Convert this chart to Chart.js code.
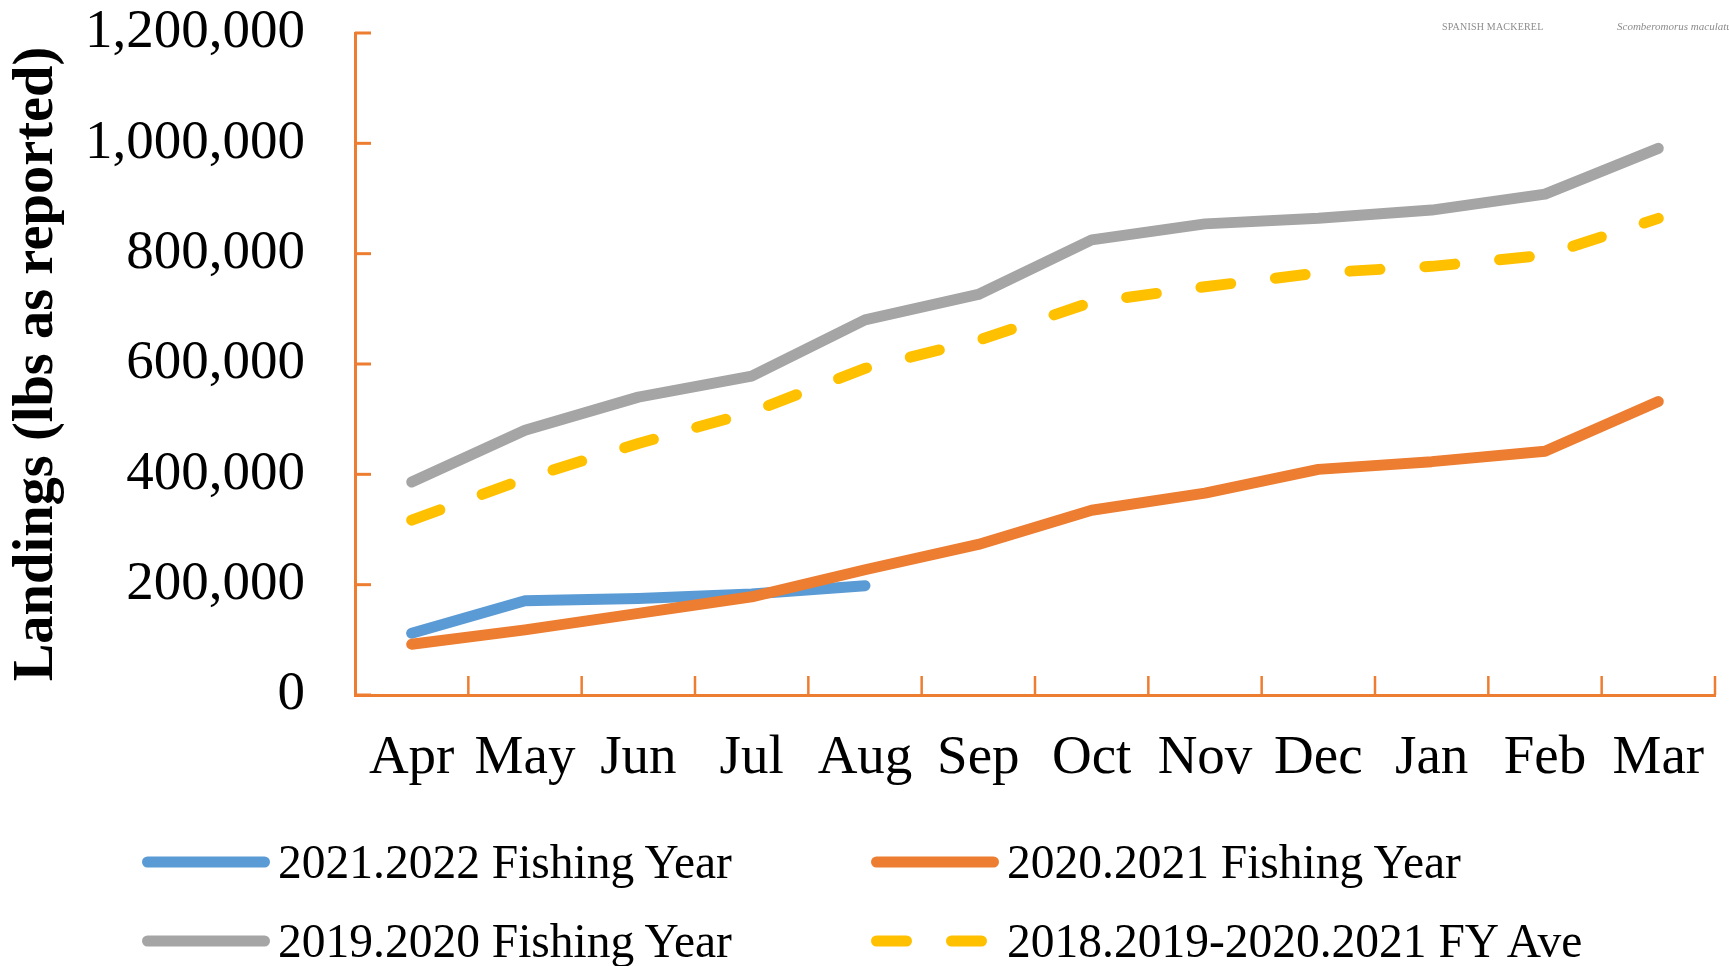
<!DOCTYPE html>
<html>
<head>
<meta charset="utf-8">
<script src="https://cdn.jsdelivr.net/npm/chart.js@4.4.1/dist/chart.umd.min.js"></script>
<style>
  html, body { margin: 0; padding: 0; background: #fff; }
  #wrap { position: relative; width: 1729px; height: 966px; overflow: hidden; }
  #c { position: absolute; left: 0; top: 0; }
  .item { position: absolute; display: flex; align-items: center; white-space: nowrap;
          font-family: "Liberation Serif", "Times New Roman", serif; font-size: 47.5px; line-height: 54px; color: #000; }
  .item svg { margin-right: 8px; display: block; }
  .wm1 { position: absolute; left: 1442px; top: 21px; font: 10px "Liberation Serif", serif; color: #8c8c8c; letter-spacing: 0.2px; }
  .wm2 { position: absolute; left: 1617px; top: 20px; font: italic 11px "Liberation Serif", serif; color: #8c8c8c; white-space: nowrap; }
</style>
</head>
<body>
<div id="wrap">
  <canvas id="c" width="1729" height="966"></canvas>
  <div class="wm1">SPANISH MACKEREL</div>
  <div class="wm2">Scomberomorus maculatus</div>
  <div id="legend"></div>
</div>
<script>
// ---- data ----
const months = ['Apr', 'May', 'Jun', 'Jul', 'Aug', 'Sep', 'Oct', 'Nov', 'Dec', 'Jan', 'Feb', 'Mar'];
const seriesNames = ['2021.2022 Fishing Year', '2020.2021 Fishing Year', '2019.2020 Fishing Year', '2018.2019-2020.2021 FY Ave'];
const fy2122 = [112000, 171000, 175000, 183000, 198000];
const fy2021 = [92000, 118000, 148000, 178000, 227000, 273000, 335000, 366000, 409000, 423000, 442000, 532000];
const fy1920 = [386000, 480000, 540000, 578000, 680000, 726000, 825000, 854000, 864000, 879000, 908000, 991000];
const fyAve  = [317000, 392000, 456000, 513000, 592000, 643000, 712000, 740000, 765000, 777000, 797000, 864000];
const yTickLabels = ['0', '200,000', '400,000', '600,000', '800,000', '1,000,000', '1,200,000'];
const yTitle = 'Landings (lbs as reported)';

// ---- styles ----
const FONT = '"Liberation Serif", "Times New Roman", serif';
const AXIS = '#ED7D31';
const colors = ['#5B9BD5', '#ED7D31', '#A5A5A5', '#FFC000'];
const LW = 11;

const innerTicks = {
  id: 'innerTicks',
  beforeDatasetsDraw(chart) {
    const { ctx, chartArea, scales: { x, y } } = chart;
    ctx.save();
    ctx.strokeStyle = AXIS;
    ctx.lineWidth = 3;
    y.ticks.forEach((t, i) => {
      const py = y.getPixelForTick(i);
      ctx.beginPath();
      ctx.moveTo(chartArea.left, py);
      ctx.lineTo(chartArea.left + 16, py);
      ctx.stroke();
    });
    ctx.lineWidth = 2.5;
    for (let i = 1; i <= months.length; i++) {
      const px = x.getPixelForValue(i - 0.5);
      ctx.beginPath();
      ctx.moveTo(px, chartArea.bottom);
      ctx.lineTo(px, chartArea.bottom - 19);
      ctx.stroke();
    }
    ctx.restore();
  }
};

const mk = (i, data, extra) => Object.assign({
  label: seriesNames[i], data, borderColor: colors[i], backgroundColor: colors[i],
  borderWidth: LW, pointRadius: 0, tension: 0, fill: false,
  borderCapStyle: 'round', borderJoinStyle: 'round'
}, extra || {});

const datasets = [
  mk(0, fy2122, { order: 1 }),
  mk(1, fy2021, { order: 0 }),
  mk(2, fy1920, { order: 2 }),
  mk(3, fyAve,  { order: 3, borderDash: [30, 45] })
];

const chart = new Chart(document.getElementById('c'), {
  type: 'line',
  data: { labels: months, datasets },
  options: {
    responsive: false,
    animation: false,
    layout: { padding: { left: 0, top: 33, right: 14, bottom: 171 } },
    plugins: { legend: { display: false }, tooltip: { enabled: false } },
    scales: {
      x: {
        offset: true,
        grid: { drawOnChartArea: false, drawTicks: false },
        border: { color: AXIS, width: 3 },
        ticks: { color: '#000', font: { family: FONT, size: 55 }, padding: 31, maxRotation: 0, autoSkip: false },
        afterFit(s) { s.height = 100; s.paddingLeft = 0; s.paddingRight = 0; }
      },
      y: {
        min: 0, max: 1200000,
        grid: { drawOnChartArea: false, drawTicks: false },
        border: { color: AXIS, width: 3 },
        ticks: { stepSize: 200000, color: '#000', font: { family: FONT, size: 55, lineHeight: 0.3 }, padding: 50,
                 callback: (v, i) => yTickLabels[i] },
        title: { display: true, text: yTitle, color: '#000', font: { family: FONT, size: 56.5, weight: 'bold' },
                 padding: { top: 4, bottom: 0 } },
        afterFit(s) { s.width = 355; s.paddingTop = 0; s.paddingBottom = 0; }
      }
    }
  },
  plugins: [innerTicks]
});

// ---- HTML legend built from the datasets ----
const legendPos = [[142, 835], [871, 835], [142, 914], [871, 914]];
const legend = document.getElementById('legend');
datasets.forEach((ds, i) => {
  const d = document.createElement('div');
  d.className = 'item';
  d.style.left = legendPos[i][0] + 'px';
  d.style.top = legendPos[i][1] + 'px';
  const dash = ds.borderDash ? `stroke-dasharray="${ds.borderDash.join(' ')}"` : '';
  d.innerHTML = `<svg width="128" height="20"><line x1="5.5" y1="10" x2="122.5" y2="10" stroke="${ds.borderColor}" stroke-width="${LW}" stroke-linecap="round" ${dash}/></svg><span>${ds.label}</span>`;
  legend.appendChild(d);
});
</script>
</body>
</html>
